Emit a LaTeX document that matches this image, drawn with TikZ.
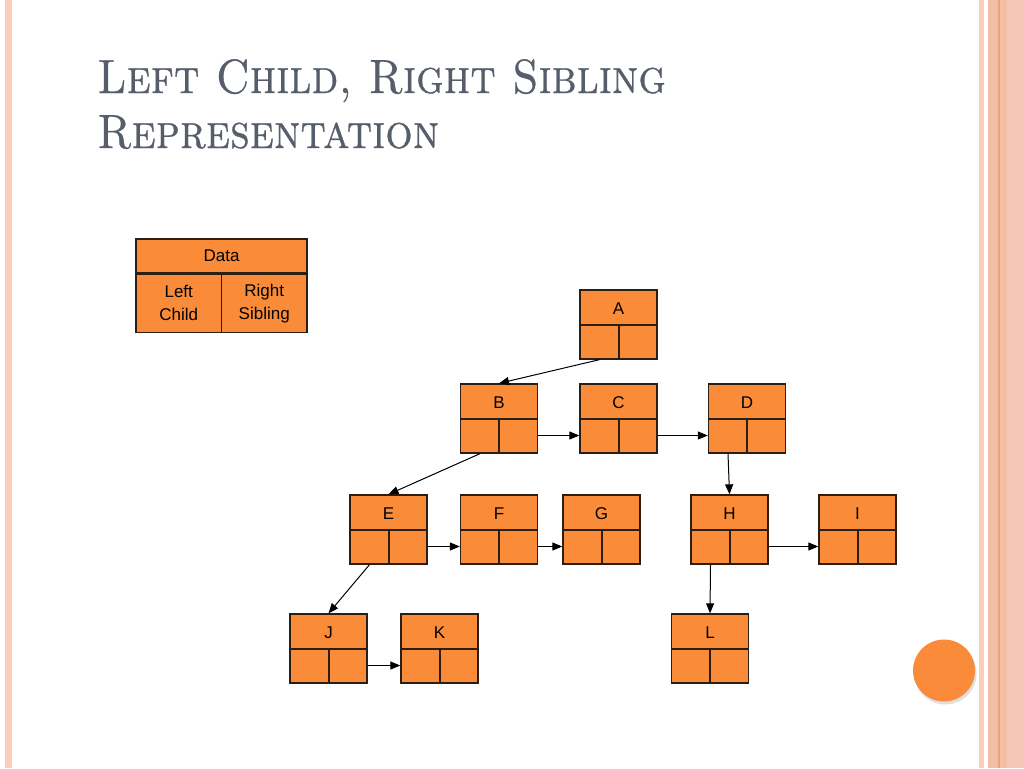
\documentclass[tikz,border=0pt]{standalone}
\usepackage{fontspec}
\newfontfamily\arialf{Liberation Sans}
\newfontfamily\titlef{lmromancaps10-regular}[Extension=.otf, FakeBold=0.6]
\usetikzlibrary{arrows.meta,shadows}
\definecolor{boxorange}{RGB}{250,139,57}
\definecolor{boxedge}{RGB}{45,30,20}
\definecolor{titlegray}{RGB}{86,94,107}
\definecolor{peach}{RGB}{242,190,168}
\definecolor{peachlight}{RGB}{250,205,188}
\definecolor{peachline}{RGB}{240,160,115}
\definecolor{dotorange}{RGB}{249,139,58}
\tikzset{
  rec/.style={draw=boxedge, line width=1.3pt, fill=boxorange, minimum width=77pt, minimum height=69pt, inner sep=0pt,
    path picture={\draw[boxedge, line width=2pt] (path picture bounding box.west) -- (path picture bounding box.east)
      (path picture bounding box.center) -- (path picture bounding box.south);}},
  cell/.style={draw=boxedge, line width=1.3pt, fill=boxorange, inner sep=0pt, align=center, font=\arialf\fontsize{17}{23}\selectfont},
  lbl/.style={anchor=center, yshift=-19pt, font=\arialf\fontsize{17}{20}\selectfont, inner sep=0pt},
  arr/.style={-{Triangle[length=10pt,width=8pt]}, line width=1pt, black},
  ttl/.style={anchor=base west, inner sep=0pt, text=titlegray, font=\titlef\fontsize{48}{55}\selectfont}
}
\begin{document}
\begin{tikzpicture}[x=1pt,y=-1pt]
\useasboundingbox (0,0) rectangle (1024,768);
\fill[white] (0,0) rectangle (1024,768);
% side stripes
\fill[peachlight] (5,0) rectangle (12,768);
\fill[peachlight] (979,0) rectangle (983.5,768);
\fill[peach] (988,0) rectangle (1024,768);
\fill[peachline] (998,0) rectangle (999.5,768);
\fill[peach!85!white] (1007,0) rectangle (1024,768);
% title
\node[ttl] (t1) at (97,93) {\scalebox{0.9}[1]{Left Child, Right Sibling}};
\node[ttl] (t2) at (97,148) {\scalebox{0.9}[1]{Representation}};
% legend
\node[cell, minimum width=171pt, minimum height=34pt, text depth=0pt] (data) at (221.5,256) {Data};
\node[cell, minimum width=85.5pt, minimum height=58pt, anchor=north west] (lc) at (data.south west) {Left\\Child};
\node[cell, minimum width=85.5pt, minimum height=58pt, anchor=north east] (rs) at (data.south east) {Right\\Sibling};
% records
\node[rec, label={[lbl]north:A}] (A) at (618.5,324.5) {};
\node[rec, label={[lbl]north:B}] (B) at (499,418.5) {};
\node[rec, label={[lbl]north:C}] (C) at (618.5,418.5) {};
\node[rec, label={[lbl]north:D}] (D) at (747,418.5) {};
\node[rec, label={[lbl]north:E}] (E) at (388.5,529.5) {};
\node[rec, label={[lbl]north:F}] (F) at (499,529.5) {};
\node[rec, label={[lbl]north:G}] (G) at (601.5,529.5) {};
\node[rec, label={[lbl]north:H}] (H) at (729.5,529.5) {};
\node[rec, label={[lbl]north:I}] (I) at (857.5,529.5) {};
\node[rec, label={[lbl]north:J}] (J) at (328.5,648.5) {};
\node[rec, label={[lbl]north:K}] (K) at (439.5,648.5) {};
\node[rec, label={[lbl]north:L}] (L) at (710,648.5) {};
% connectors
\draw[arr] ([xshift=-19pt]A.south) -- (B.north);
\draw[arr] ([yshift=-17pt]B.east) -- ([yshift=-17pt]C.west);
\draw[arr] ([yshift=-17pt]C.east) -- ([yshift=-17pt]D.west);
\draw[arr] ([xshift=-19pt]B.south) -- (E.north);
\draw[arr] ([xshift=-19pt]D.south) -- (H.north);
\draw[arr] ([yshift=-17pt]E.east) -- ([yshift=-17pt]F.west);
\draw[arr] ([yshift=-17pt]F.east) -- ([yshift=-17pt]G.west);
\draw[arr] ([yshift=-17pt]H.east) -- ([yshift=-17pt]I.west);
\draw[arr] ([xshift=-19pt]E.south) -- (J.north);
\draw[arr] ([yshift=-17pt]J.east) -- ([yshift=-17pt]K.west);
\draw[arr] ([xshift=-19pt]H.south) -- (L.north);
% decorative dot
\node[circle, fill=dotorange, minimum size=62pt, inner sep=0pt, drop shadow={opacity=0.25, shadow xshift=1.5pt, shadow yshift=-3pt}] (dot) at (944,670.5) {};
\end{tikzpicture}
\end{document}
